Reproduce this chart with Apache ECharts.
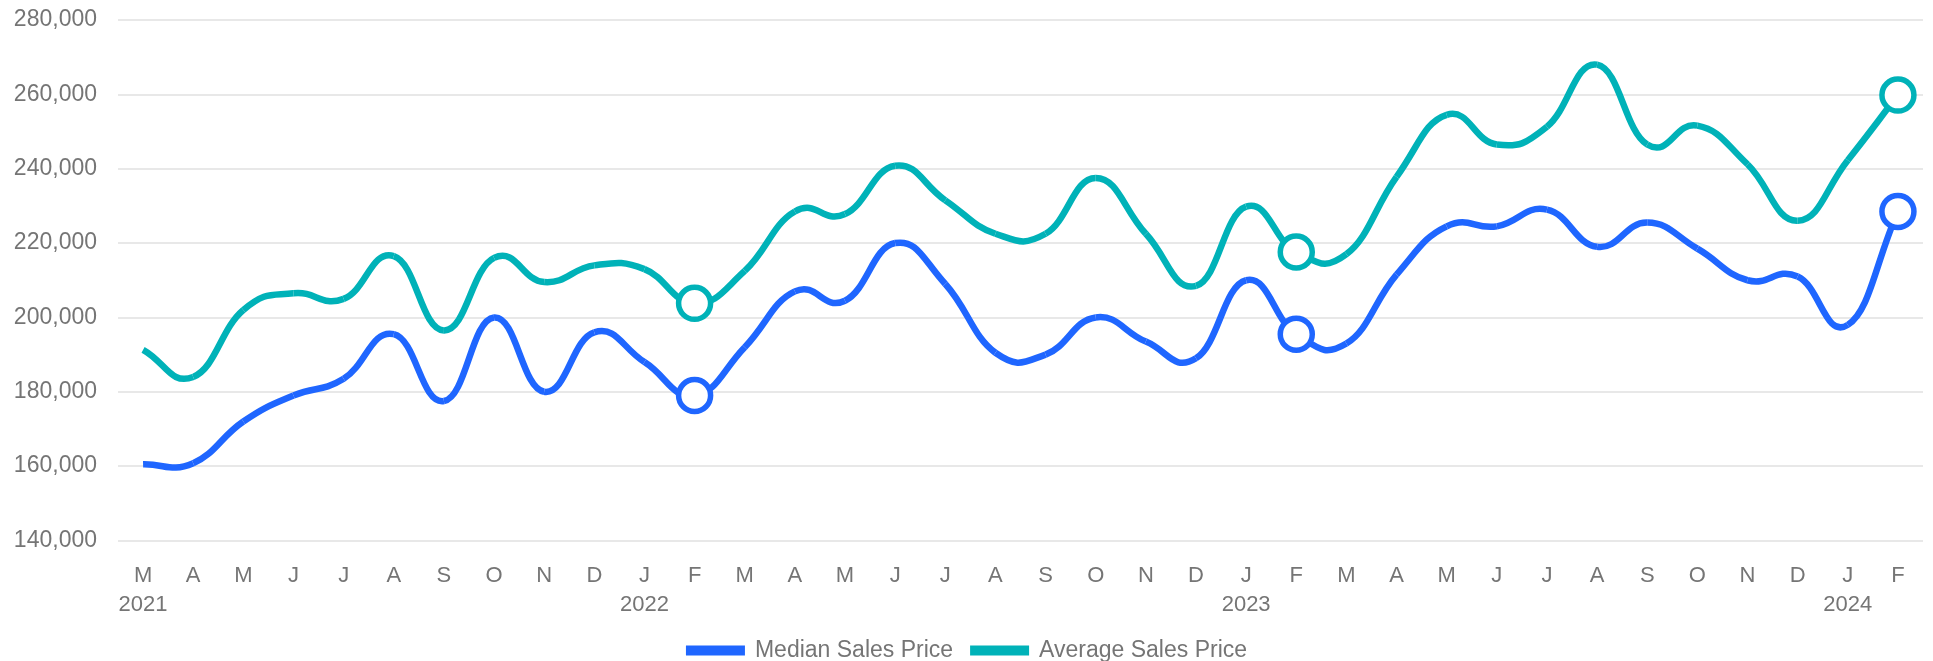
<!DOCTYPE html>
<html>
<head>
<meta charset="utf-8">
<script src="https://cdn.jsdelivr.net/npm/echarts@6/dist/echarts.min.js"></script>
<style>
  html, body { margin: 0; padding: 0; background: #fff; }
  #chart { width: 1933px; height: 661px; }
</style>
</head>
<body>
<div id="chart"></div>
<script>
// months Mar 2021 .. Feb 2024
var months = [
  'Mar 2021', 'Apr 2021', 'May 2021', 'Jun 2021', 'Jul 2021', 'Aug 2021', 'Sep 2021', 'Oct 2021', 'Nov 2021', 'Dec 2021',
  'Jan 2022', 'Feb 2022', 'Mar 2022', 'Apr 2022', 'May 2022', 'Jun 2022', 'Jul 2022', 'Aug 2022', 'Sep 2022', 'Oct 2022', 'Nov 2022', 'Dec 2022',
  'Jan 2023', 'Feb 2023', 'Mar 2023', 'Apr 2023', 'May 2023', 'Jun 2023', 'Jul 2023', 'Aug 2023', 'Sep 2023', 'Oct 2023', 'Nov 2023', 'Dec 2023',
  'Jan 2024', 'Feb 2024'
];
var medianPrice = [
  160500, 160800, 172000, 179000, 183500, 195500, 177500, 200000, 180000, 196000,
  188000, 179000, 192000, 207000, 204500, 220000, 209000, 190500, 190000, 200000, 193500, 189000,
  210000, 195500, 193000, 211500, 224500, 224500, 229000, 219000, 225500, 218500, 210000, 211000,
  198000, 228500
];
var averagePrice = [
  191300, 184000, 202000, 206500, 205000, 216500, 196500, 216000, 209500, 214000,
  213000, 203800, 212500, 228500, 227800, 240800, 231500, 222500, 222500, 237500, 222500, 208500,
  229800, 217600, 217000, 237800, 254500, 246500, 251300, 268000, 246500, 251600, 241200, 226000,
  242300, 259800
];
var yTicks = [140000, 160000, 180000, 200000, 220000, 240000, 260000, 280000];
var markedMonths = ['Feb 2022', 'Feb 2023', 'Feb 2024'];

var BLUE = '#1f66ff';
var TEAL = '#00b2b8';
var TEXT = '#757575';
var TENSION = 0.45;

// only the February points get the hollow ring
function withMarkers(values, color) {
  return values.map(function (v, i) {
    if (markedMonths.indexOf(months[i]) < 0) return v;
    return {
      value: v,
      symbol: 'circle',
      symbolSize: 32,
      itemStyle: { color: '#fff', borderColor: color, borderWidth: 5.5 }
    };
  });
}

// cardinal spline control points (pixel space), ends fall back to the point itself
function ctrl(prev, cur, next, t) {
  var sa = prev === cur ? 0 : 0.5;
  var sb = next === cur ? 0 : 0.5;
  if (!sa && sb) sb = 1;
  if (!sb && sa) sa = 1;
  var dx = next[0] - prev[0], dy = next[1] - prev[1];
  return {
    prev: [cur[0] - t * sa * dx, cur[1] - t * sa * dy],
    next: [cur[0] + t * sb * dx, cur[1] + t * sb * dy]
  };
}

// smooth line drawn segment by segment, positions from the axes via api.coord
function curveSeries(name, values, color) {
  return {
    name: name,
    type: 'custom',
    silent: true,
    z: 1,
    data: values.map(function (v, i) { return [i, v]; }),
    encode: { x: 0, y: 1 },
    renderItem: function (params, api) {
      var i = params.dataIndex;
      if (i === 0) return null;
      var last = values.length - 1;
      var pt = function (k) { return api.coord([k, values[k]]); };
      var p0 = pt(i - 1), p1 = pt(i);
      var pm = i - 2 >= 0 ? pt(i - 2) : p0;
      var pn = i + 1 <= last ? pt(i + 1) : p1;
      var a = ctrl(pm, p0, p1, TENSION);
      var b = ctrl(p0, p1, pn, TENSION);
      return {
        type: 'bezierCurve',
        shape: {
          x1: p0[0], y1: p0[1],
          cpx1: a.next[0], cpy1: a.next[1],
          cpx2: b.prev[0], cpy2: b.prev[1],
          x2: p1[0], y2: p1[1]
        },
        style: { stroke: color, lineWidth: 6.5, fill: null, lineCap: 'butt' }
      };
    }
  };
}

var chart = echarts.init(document.getElementById('chart'));
chart.setOption({
  animation: false,
  backgroundColor: '#fff',
  textStyle: { fontFamily: '"Liberation Sans", Arial, sans-serif' },
  grid: { left: 118, right: 10, top: 20, bottom: 120.5 },
  legend: {
    top: 634,
    left: 'center',
    icon: 'rect',
    itemWidth: 59,
    itemHeight: 10,
    itemGap: 17,
    textStyle: { color: TEXT, fontSize: 23, padding: [0, 0, 0, 5] },
    data: ['Median Sales Price', 'Average Sales Price']
  },
  xAxis: {
    type: 'category',
    data: months,
    boundaryGap: true,
    axisLine: { show: false },
    axisTick: { show: false },
    axisLabel: {
      interval: 0,
      margin: 21,
      color: TEXT,
      fontSize: 22,
      lineHeight: 29,
      formatter: function (val, idx) {
        var letter = val.charAt(0);
        if (idx === 0 || val.indexOf('Jan') === 0) return letter + '\n' + val.slice(4);
        return letter;
      }
    }
  },
  yAxis: {
    type: 'value',
    min: yTicks[0],
    max: yTicks[yTicks.length - 1],
    interval: 20000,
    axisLine: { show: false },
    axisTick: { show: false },
    axisLabel: {
      color: TEXT,
      fontSize: 23,
      margin: 21,
      formatter: function (v) { return v.toLocaleString('en-US'); }
    },
    splitLine: { lineStyle: { color: '#e8e8e8', width: 2 } }
  },
  series: [
    curveSeries('median-curve', medianPrice, BLUE),
    curveSeries('average-curve', averagePrice, TEAL),
    {
      name: 'Median Sales Price',
      type: 'line',
      symbol: 'none',
      showAllSymbol: true,
      z: 3,
      color: BLUE,
      lineStyle: { width: 0, opacity: 0 },
      itemStyle: { color: BLUE },
      data: withMarkers(medianPrice, BLUE)
    },
    {
      name: 'Average Sales Price',
      type: 'line',
      symbol: 'none',
      showAllSymbol: true,
      z: 3,
      color: TEAL,
      lineStyle: { width: 0, opacity: 0 },
      itemStyle: { color: TEAL },
      data: withMarkers(averagePrice, TEAL)
    }
  ]
});
</script>
</body>
</html>
